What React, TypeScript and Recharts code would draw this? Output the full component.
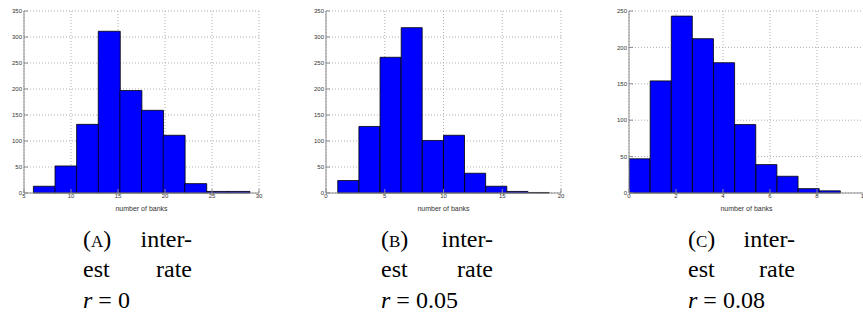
import React from "react";
import { BarChart, Bar, XAxis, YAxis, CartesianGrid } from "recharts";

// Histogram bin centres (number of banks) and counts, per interest-rate case
const binsA = [7.15, 9.45, 11.75, 14.05, 16.35, 18.65, 20.95, 23.25, 25.55, 27.85];
const countsA = [13, 52, 132, 311, 197, 159, 111, 18, 3, 3];
const xTicksA = [5, 10, 15, 20, 25, 30];
const yTicksA = [0, 50, 100, 150, 200, 250, 300, 350];

const binsB = [1.9, 3.7, 5.5, 7.3, 9.1, 10.9, 12.7, 14.5, 16.3, 18.1];
const countsB = [24, 128, 261, 318, 101, 111, 38, 13, 3, 1];
const xTicksB = [0, 5, 10, 15, 20];
const yTicksB = [0, 50, 100, 150, 200, 250, 300, 350];

const binsC = [0.45, 1.35, 2.25, 3.15, 4.05, 4.95, 5.85, 6.75, 7.65, 8.55];
const countsC = [47, 154, 243, 212, 179, 94, 39, 23, 6, 3];
const xTicksC = [0, 2, 4, 6, 8, 10];
const yTicksC = [0, 50, 100, 150, 200, 250];

const captionLetters = ["a", "b", "c"];
const captionRates = ["0", "0.05", "0.08"];

const xLabel = "number of banks";

const sansFont = "'Liberation Sans', Arial, sans-serif";
const tickStyle = { fontSize: 6, fill: "#333", fontFamily: sansFont };
const FRAME = "#8a8a8a";

type HistProps = {
  bins: number[];
  counts: number[];
  xTicks: number[];
  yTicks: number[];
  left: number;
  marginLeft: number;
};

function Hist({ bins, counts, xTicks, yTicks, left, marginLeft }: HistProps) {
  const data = bins.map((x, i) => ({ x, count: counts[i] }));
  const xDomain = [xTicks[0], xTicks[xTicks.length - 1]];
  const yDomain = [yTicks[0], yTicks[yTicks.length - 1]];
  const width = marginLeft + 20 + 235 + 10;
  return (
    <div style={{ position: "absolute", left, top: 0 }}>
      <BarChart
        width={width}
        height={213}
        data={data}
        margin={{ top: 11, right: 10, bottom: 0, left: marginLeft }}
        barCategoryGap={0}
        barGap={0}
      >
        <CartesianGrid stroke="#b0b0b0" strokeDasharray="1 2" />
        <XAxis
          type="number"
          dataKey="x"
          domain={xDomain}
          ticks={xTicks}
          allowDataOverflow
          height={20}
          tick={tickStyle}
          tickSize={-4}
          tickMargin={5}
          tickLine={{ stroke: FRAME }}
          axisLine={{ stroke: FRAME }}
          interval={0}
          label={{
            value: xLabel,
            position: "insideBottom",
            offset: 2,
            fill: "#333",
            style: { fontSize: 7, fill: "#333", fontFamily: sansFont },
          }}
        />
        <XAxis
          xAxisId="top"
          orientation="top"
          type="number"
          dataKey="x"
          domain={xDomain}
          allowDataOverflow
          height={0}
          tick={false}
          tickLine={false}
          axisLine={{ stroke: FRAME }}
        />
        <YAxis
          type="number"
          domain={yDomain}
          ticks={yTicks}
          width={20}
          tick={tickStyle}
          tickSize={-4}
          tickMargin={6}
          tickLine={{ stroke: FRAME }}
          axisLine={{ stroke: FRAME }}
          interval={0}
        />
        <YAxis
          yAxisId="right"
          orientation="right"
          type="number"
          domain={yDomain}
          width={0}
          tick={false}
          tickLine={false}
          axisLine={{ stroke: FRAME }}
        />
        <Bar
          dataKey="count"
          fill="#0000ff"
          stroke="#000"
          strokeWidth={0.8}
          isAnimationActive={false}
        />
      </BarChart>
    </div>
  );
}

const capBase: React.CSSProperties = {
  position: "absolute",
  fontFamily: "'Liberation Serif'",
  fontSize: 24,
  lineHeight: "24px",
  color: "#000",
  whiteSpace: "nowrap",
};

function Caption({ letter, rate, x0, x1 }: { letter: string; rate: string; x0: number; x1: number }) {
  const r = 863 - x1;
  return (
    <>
      <div style={{ ...capBase, left: x0, top: 227 }}>
        (<span style={{ fontVariant: "small-caps" }}>{letter}</span>)
      </div>
      <div style={{ ...capBase, right: r, top: 227 }}>inter-</div>
      <div style={{ ...capBase, left: x0, top: 257 }}>est</div>
      <div style={{ ...capBase, right: r, top: 257 }}>rate</div>
      <div style={{ ...capBase, left: x0, top: 288 }}>
        <span style={{ fontStyle: "italic" }}>r</span> = {rate}
      </div>
    </>
  );
}

export default function App() {
  const capPos = [
    [83, 192],
    [381, 493],
    [688, 795],
  ];
  return (
    <div style={{ position: "absolute", left: 0, top: 0, width: 863, height: 316, overflow: "hidden", background: "#fff" }}>
      <Hist bins={binsA} counts={countsA} xTicks={xTicksA} yTicks={yTicksA} left={0} marginLeft={4} />
      <Hist bins={binsB} counts={countsB} xTicks={xTicksB} yTicks={yTicksB} left={300} marginLeft={6} />
      <Hist bins={binsC} counts={countsC} xTicks={xTicksC} yTicks={yTicksC} left={605} marginLeft={4} />
      {captionLetters.map((l, i) => (
        <Caption key={l} letter={l} rate={captionRates[i]} x0={capPos[i][0]} x1={capPos[i][1]} />
      ))}
    </div>
  );
}
